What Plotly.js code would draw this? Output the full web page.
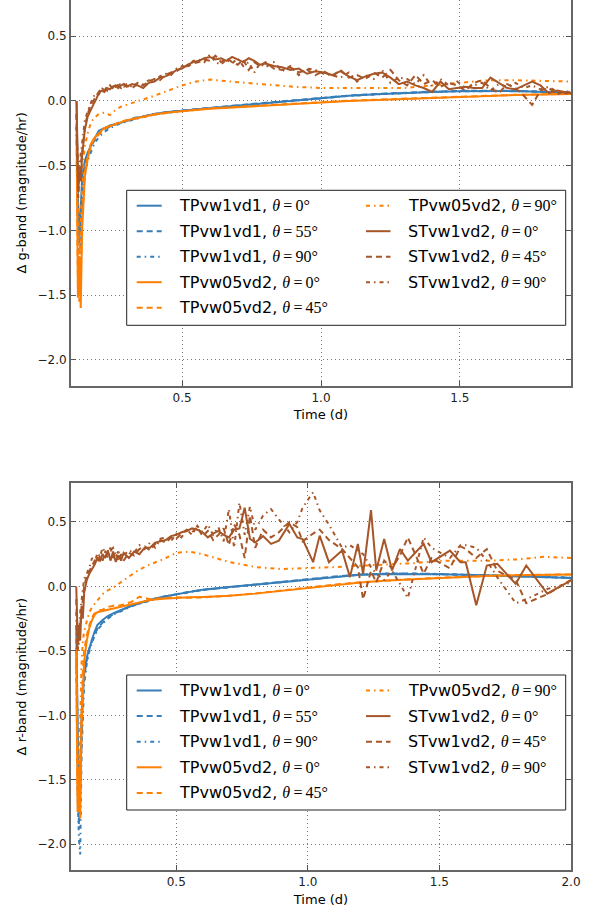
<!DOCTYPE html>
<html><head><meta charset="utf-8">
<script src="https://cdn.plot.ly/plotly-3.0.1.min.js"></script>
<style>html,body{margin:0;padding:0;background:#fff;} #chart{width:597px;height:911px;}</style>
</head><body><div id="chart"></div>
<script>
// ---------- tick labels ----------
const yTickVals = [-2.0, -1.5, -1.0, -0.5, 0.0, 0.5];
const yTickText = ['\u22122.0', '\u22121.5', '\u22121.0', '\u22120.5', '0.0', '0.5'];
const xTickValsTop = [0.5, 1.0, 1.5];
const xTickTextTop = ['0.5', '1.0', '1.5'];
const xTickValsBot = [0.5, 1.0, 1.5, 2.0];
const xTickTextBot = ['0.5', '1.0', '1.5', '2.0'];

// ---------- legend labels ----------
const seriesModels = ['TPvw1vd1','TPvw1vd1','TPvw1vd1','TPvw05vd2','TPvw05vd2','TPvw05vd2','STvw1vd2','STvw1vd2','STvw1vd2'];
const seriesAngles = ['0','55','90','0','45','90','0','45','90'];

// ---------- g-band (top) ----------
const xG_TP = [0.12,0.125,0.13,0.135,0.14,0.145,0.15,0.16,0.17,0.18,0.19,0.2,0.22,0.24,0.26,0.28,0.3,0.33,0.36,0.4,0.45,0.5,0.55,0.6,0.7,0.8,0.9,1.0,1.1,1.2,1.3,1.4,1.5,1.6,1.7,1.8,1.9];
const gBlue0 = [0.0,-0.75,-1.08,-0.8,-0.6,-0.52,-0.46,-0.4,-0.35,-0.31,-0.27,-0.23, -0.21,-0.19,-0.18,-0.165,-0.155,-0.135,-0.12, -0.1,-0.085,-0.075,-0.065,-0.055, -0.035,-0.015,0.005,0.025,0.04,0.052,0.062,0.07,0.075,0.077,0.076,0.07,0.064];
const gBlue55 = [-0.1,-0.9,-1.1,-0.95,-0.7,-0.58,-0.5,-0.42,-0.37,-0.32,-0.29,-0.25, -0.22,-0.2,-0.18,-0.16,-0.15,-0.13,-0.12, -0.1,-0.085,-0.073,-0.063,-0.053, -0.033,-0.013,0.007,0.027,0.042,0.054,0.064,0.072,0.078,0.08,0.078,0.072,0.066];
const gBlue90 = [-0.2,-1.0,-1.5,-1.12,-0.8,-0.66,-0.55,-0.46,-0.4,-0.35,-0.31,-0.28, -0.24,-0.21,-0.19,-0.17,-0.16,-0.14,-0.125, -0.105,-0.09,-0.077,-0.066,-0.056, -0.036,-0.016,0.004,0.024,0.039,0.051,0.061,0.069,0.075,0.078,0.077,0.071,0.065];
const gOrange0 = [-0.2,-1.52,-1.2,-1.6,-1.0,-0.75,-0.58,-0.45,-0.34,-0.3,-0.27,-0.25, -0.21,-0.195,-0.18,-0.165,-0.15,-0.135,-0.12, -0.105,-0.09,-0.08,-0.07,-0.06, -0.048,-0.035,-0.022,-0.01,0.0,0.008,0.016,0.024,0.032,0.04,0.046,0.05,0.054];
const gOrange45 = [-0.3,-1.45,-1.55,-1.3,-0.9,-0.7,-0.55,-0.43,-0.36,-0.31,-0.28,-0.26, -0.22,-0.19,-0.18,-0.16,-0.15,-0.135,-0.12, -0.105,-0.09,-0.078,-0.068,-0.058, -0.045,-0.033,-0.02,-0.008,0.002,0.01,0.018,0.026,0.033,0.041,0.047,0.051,0.055];
const gOrange90 = [-0.1,-0.9,-1.3,-0.9,-0.6,-0.45,-0.35,-0.25,-0.18,-0.14,-0.12,-0.1, -0.09,-0.11,-0.07,-0.044,-0.03,-0.01,0.01, 0.04,0.08,0.12,0.15,0.165, 0.145,0.125,0.11,0.1,0.1,0.095,0.1,0.12,0.14,0.16,0.16,0.155,0.15];

const xG_ST = [0.12,0.123,0.126,0.13,0.135,0.14,0.145,0.15,0.16,0.17,
  0.18,0.19,0.2,0.21,0.22,0.23,0.24,0.25,0.26,0.27,
  0.28,0.29,0.3,0.32,0.34,0.36,0.38,0.4,0.42,0.44,
  0.46,0.48,0.5,0.52,0.54,0.56,0.58,0.6,0.62,0.64,
  0.66,0.68,0.7,0.72,0.74,0.76,0.78,0.8,0.83,0.86,
  0.89,0.92,0.95,0.98,1.01,1.04,1.07,1.1,1.13,1.16,
  1.19,1.22,1.25,1.28,1.31,1.34,1.37,1.4,1.43,1.46,
  1.49,1.52,1.55,1.58,1.61,1.64,1.67,1.7,1.73,1.76,
  1.79,1.82,1.85,1.88,1.9];
const gST0 = [0.0,-0.45,-0.7,-0.55,-0.62,-0.42,-0.3,-0.22,-0.12,-0.07,
  -0.03,0.01,0.06,0.08,0.07,0.1,0.09,0.11,0.12,0.1,
  0.12,0.13,0.11,0.13,0.12,0.1,0.14,0.15,0.18,0.19,
  0.21,0.24,0.25,0.28,0.3,0.31,0.33,0.34,0.32,0.33,
  0.31,0.34,0.32,0.3,0.33,0.31,0.28,0.29,0.27,0.26,
  0.24,0.25,0.21,0.23,0.22,0.2,0.23,0.19,0.16,0.19,
  0.21,0.22,0.18,0.13,0.15,0.12,0.1,0.07,0.15,0.09,
  0.1,0.11,0.1,0.1,0.18,0.14,0.1,0.09,0.12,0.15,
  0.12,0.06,0.08,0.07,0.06];
const gST45 = [-0.1,-0.6,-0.75,-0.6,-0.5,-0.38,-0.28,-0.2,-0.1,-0.04,
  0.0,0.04,0.07,0.1,0.08,0.11,0.12,0.1,0.13,0.12,
  0.1,0.13,0.12,0.1,0.13,0.12,0.15,0.17,0.16,0.2,
  0.22,0.23,0.26,0.27,0.29,0.3,0.32,0.31,0.35,0.3,
  0.33,0.3,0.28,0.32,0.24,0.3,0.27,0.3,0.25,0.24,
  0.26,0.22,0.24,0.2,0.23,0.19,0.24,0.18,0.2,0.17,
  0.22,0.18,0.24,0.16,0.12,0.2,0.13,0.16,0.11,0.14,
  0.12,0.08,0.14,0.16,0.1,0.06,0.13,0.1,0.04,-0.03,
  0.08,0.1,0.05,0.08,0.06];
const gST90 = [-0.2,-0.55,-0.68,-0.5,-0.4,-0.32,-0.25,-0.15,-0.08,-0.02,
  0.03,0.06,0.05,0.09,0.11,0.08,0.12,0.13,0.11,0.14,
  0.12,0.11,0.13,0.11,0.14,0.13,0.16,0.15,0.19,0.21,
  0.2,0.25,0.27,0.26,0.31,0.32,0.3,0.36,0.3,0.28,
  0.32,0.29,0.33,0.27,0.3,0.22,0.29,0.26,0.3,0.23,
  0.27,0.2,0.25,0.24,0.21,0.2,0.18,0.22,0.15,0.2,
  0.17,0.24,0.14,0.18,0.17,0.13,0.2,0.11,0.17,0.12,
  0.15,0.1,0.12,0.14,0.08,0.13,0.11,0.14,0.1,0.12,
  0.09,0.11,0.07,0.06,0.05];

// ---------- r-band (bottom) ----------
const xR_TP = [0.12,0.125,0.13,0.135,0.14,0.145,0.15,0.16,0.17,0.18,0.19,0.2,0.22,0.24,0.26,0.28,0.3,0.33,0.36,0.4,0.45,0.5,0.55,0.6,0.7,0.8,0.9,1.0,1.1,1.2,1.3,1.4,1.5,1.6,1.7,1.8,1.9,2.0];
const rBlue0 = [-0.3,-1.2,-1.75,-1.5,-1.0,-0.8,-0.68,-0.55,-0.47,-0.41,-0.35,-0.3, -0.26,-0.23,-0.21,-0.19,-0.175,-0.15,-0.13, -0.105,-0.08,-0.06,-0.04,-0.025, -0.005,0.015,0.035,0.055,0.075,0.09,0.097,0.098,0.095,0.09,0.083,0.077,0.071,0.066];
const rBlue55 = [-0.4,-1.4,-1.85,-1.6,-1.1,-0.85,-0.7,-0.57,-0.48,-0.42,-0.37,-0.33, -0.28,-0.245,-0.215,-0.195,-0.175,-0.15,-0.13, -0.105,-0.08,-0.06,-0.042,-0.027, -0.006,0.014,0.034,0.056,0.076,0.091,0.099,0.1,0.096,0.09,0.084,0.078,0.072,0.067];
const rBlue90 = [-0.5,-1.6,-1.95,-2.08,-1.3,-0.95,-0.76,-0.6,-0.5,-0.43,-0.38,-0.34, -0.29,-0.25,-0.22,-0.2,-0.18,-0.155,-0.135, -0.11,-0.082,-0.062,-0.044,-0.028, -0.007,0.013,0.034,0.056,0.077,0.092,0.1,0.1,0.097,0.091,0.085,0.079,0.073,0.068];
const rOrange0 = [-0.5,-1.75,-1.4,-1.8,-1.1,-0.75,-0.58,-0.42,-0.32,-0.26,-0.22,-0.2, -0.19,-0.18,-0.17,-0.16,-0.15,-0.135,-0.12, -0.105,-0.095,-0.088,-0.085,-0.082, -0.072,-0.056,-0.034,-0.01,0.012,0.03,0.045,0.055,0.065,0.075,0.082,0.087,0.09,0.092];
const rOrange45 = [-0.4,-1.6,-1.75,-1.3,-0.9,-0.65,-0.5,-0.38,-0.3,-0.24,-0.21,-0.19, -0.18,-0.16,-0.15,-0.15,-0.14,-0.12,-0.08, -0.1,-0.09,-0.085,-0.088,-0.085, -0.072,-0.055,-0.032,-0.008,0.014,0.032,0.047,0.057,0.067,0.076,0.083,0.088,0.091,0.093];
const rOrange90 = [-0.3,-1.2,-1.5,-1.0,-0.6,-0.42,-0.35,-0.27,-0.2,-0.16,-0.13,-0.11, -0.06,-0.03,-0.01,0.02,0.05,0.09,0.13, 0.17,0.21,0.26,0.27,0.25, 0.19,0.15,0.135,0.14,0.15,0.16,0.17,0.18,0.2,0.2,0.2,0.21,0.23,0.22];

const xR_ST = [0.12,0.123,0.126,0.13,0.135,0.14,0.145,0.15,0.16,0.17,
  0.18,0.19,0.2,0.21,0.22,0.23,0.24,0.25,0.26,0.27,
  0.28,0.29,0.3,0.32,0.34,0.36,0.38,0.4,0.42,0.44,
  0.46,0.48,0.5,0.52,0.54,0.56,0.58,0.6,0.62,0.64,
  0.66,0.68,0.7,0.72,0.74,0.76,0.78,0.8,0.83,0.86,
  0.89,0.93,0.96,0.98,1.02,1.045,1.08,1.13,1.16,1.19,
  1.21,1.24,1.26,1.29,1.32,1.35,1.38,1.44,1.47,1.54,
  1.58,1.6,1.64,1.68,1.72,1.79,1.83,1.91,2.0];
const rST0 = [0.0,-0.35,-0.45,-0.3,-0.42,-0.15,-0.25,-0.05,0.05,0.1,
  0.13,0.17,0.22,0.2,0.25,0.22,0.28,0.2,0.27,0.19,
  0.24,0.2,0.26,0.22,0.27,0.25,0.3,0.3,0.34,0.35,
  0.36,0.39,0.4,0.42,0.43,0.45,0.44,0.42,0.38,0.41,
  0.43,0.4,0.38,0.44,0.45,0.61,0.37,0.34,0.39,0.33,
  0.355,0.484,0.38,0.368,0.188,0.394,0.188,0.278,0.072,0.33,
  0.098,0.592,0.124,0.368,0.124,0.29,0.2,0.33,0.188,0.278,
  0.188,0.188,-0.147,0.162,0.175,0.02,0.162,-0.056,0.046];
const rST45 = [-0.1,-0.4,-0.5,-0.35,-0.3,-0.2,-0.12,0.0,0.08,0.12,
  0.15,0.2,0.18,0.24,0.2,0.27,0.25,0.3,0.22,0.26,
  0.2,0.25,0.2,0.26,0.24,0.29,0.31,0.28,0.33,0.36,
  0.34,0.38,0.37,0.41,0.44,0.42,0.46,0.39,0.43,0.36,
  0.4,0.45,0.32,0.48,0.4,0.22,0.55,0.3,0.44,0.38,
  0.42,0.5,0.46,0.35,0.41,0.44,0.36,0.29,0.22,0.15,
  -0.1,0.12,0.03,0.2,0.14,0.24,0.38,0.1,0.22,0.14,
  0.31,0.29,0.22,0.29,0.12,0.05,-0.13,-0.06,0.05];
const rST90 = [-0.2,-0.5,-0.38,-0.45,-0.2,-0.1,0.0,0.06,0.1,0.15,
  0.22,0.18,0.26,0.23,0.3,0.26,0.22,0.28,0.3,0.24,
  0.27,0.22,0.24,0.28,0.26,0.32,0.29,0.34,0.3,0.37,
  0.38,0.35,0.41,0.38,0.44,0.4,0.47,0.42,0.48,0.4,
  0.46,0.35,0.6,0.3,0.65,0.4,0.62,0.44,0.55,0.6,
  0.52,0.42,0.5,0.61,0.73,0.59,0.48,0.3,0.32,0.28,
  0.25,0.15,0.1,0.05,0.12,0.02,-0.09,0.38,0.3,0.22,
  0.32,0.32,0.3,0.2,0.07,-0.13,-0.1,-0.02,0.03];

// ---------- styles ----------
const COL = ['#377eb8','#377eb8','#377eb8','#ff7f00','#ff7f00','#ff7f00','#a65628','#a65628','#a65628'];
const DASH = ['solid','6px,4px','4px,4px,1.5px,4px','solid','6px,4px','4px,4px,1.5px,4px','solid','6px,4px','4px,4px,1.5px,4px'];
const LW = 2;

const topSeries = [
  [xG_TP, gBlue0],[xG_TP, gBlue55],[xG_TP, gBlue90],
  [xG_TP, gOrange0],[xG_TP, gOrange45],[xG_TP, gOrange90],
  [xG_ST, gST0],[xG_ST, gST45],[xG_ST, gST90]];
const botSeries = [
  [xR_TP, rBlue0],[xR_TP, rBlue55],[xR_TP, rBlue90],
  [xR_TP, rOrange0],[xR_TP, rOrange45],[xR_TP, rOrange90],
  [xR_ST, rST0],[xR_ST, rST45],[xR_ST, rST90]];

function label(i){
  return seriesModels[i] + ', <span style="font-family:Liberation Serif"><i>\u03b8</i>\u2009=\u2009' + seriesAngles[i] + '\u00b0</span>';
}

const traces = [];
topSeries.forEach((s,i)=>traces.push({x:s[0], y:s[1], xaxis:'x', yaxis:'y', type:'scatter', mode:'lines',
  line:{color:COL[i], width:LW, dash:DASH[i]}, showlegend:false, name:label(i)}));
botSeries.forEach((s,i)=>traces.push({x:s[0], y:s[1], xaxis:'x2', yaxis:'y2', type:'scatter', mode:'lines',
  line:{color:COL[i], width:LW, dash:DASH[i]}, showlegend:false, name:label(i)}));

// ---------- manual legends (pixel helpers) ----------
const PL = 71, PW = 500, PH = 870;
const px2x = p => (p - PL) / PW;
const py2y = p => (PH - p) / PH;
const shapes = [], annotations = [];
function buildLegend(box, rowY){
  shapes.push({type:'rect', xref:'paper', yref:'paper', layer:'above',
    x0:px2x(box[0]), x1:px2x(box[1]), y0:py2y(box[2]), y1:py2y(box[3]),
    fillcolor:'#ffffff', line:{color:'#222', width:1}});
  const cols = [{lx0:136.7, lx1:161.7, tx:177}, {lx0:366, lx1:390.5, tx:405.7}];
  for (let i=0;i<9;i++){
    const c = i<5 ? cols[0] : cols[1];
    const r = i<5 ? i : i-5;
    const y = rowY[0] + r*(rowY[1]);
    shapes.push({type:'line', xref:'paper', yref:'paper', layer:'above',
      x0:px2x(c.lx0), x1:px2x(c.lx1), y0:py2y(y), y1:py2y(y),
      line:{color:COL[i], width:LW, dash:DASH[i]}});
    annotations.push({xref:'paper', yref:'paper', x:px2x(c.tx), y:py2y(y), xanchor:'left', yanchor:'middle',
      showarrow:false, text:label(i), font:{family:'DejaVu Sans', size:16, color:'#000'}});
  }
}
buildLegend([126.7,565.7,190.3,325.3],[205.7,25.5]);
buildLegend([126.7,565.7,675,810],[690.5,25.6]);

const axCommon = {ticks:'inside', ticklen:5, tickwidth:1, tickcolor:'#555', showline:true, linecolor:'#666', linewidth:2,
  showgrid:true, gridcolor:'#777', griddash:'1px,3px', gridwidth:1, zeroline:false,
  tickfont:{family:'DejaVu Sans', size:12, color:'#222'}};

const layout = {
  width:597, height:911, margin:{l:71, r:26, t:0, b:41}, paper_bgcolor:'#fff', plot_bgcolor:'#fff',
  font:{family:'DejaVu Sans', color:'#000'}, showlegend:false,
  xaxis: Object.assign({}, axCommon, {domain:[0,1], anchor:'y', range:[0.1,1.9], tickvals:xTickValsTop, ticktext:xTickTextTop, mirror:false,
    title:{text:'Time (d)', font:{family:'DejaVu Sans', size:13}, standoff:6}}),
  yaxis: Object.assign({}, axCommon, {domain:[0.5567,1], anchor:'x', range:[-2.2,0.78], tickvals:yTickVals, ticktext:yTickText, mirror:'ticks',
    title:{text:'\u0394 g-band (magnitude/hr)', font:{family:'DejaVu Sans', size:13}, standoff:8}}),
  xaxis2: Object.assign({}, axCommon, {domain:[0,1], anchor:'y2', range:[0.1,2.0], tickvals:xTickValsBot, ticktext:xTickTextBot, mirror:'ticks',
    title:{text:'Time (d)', font:{family:'DejaVu Sans', size:13}, standoff:6}}),
  yaxis2: Object.assign({}, axCommon, {domain:[0,0.4445], anchor:'x2', range:[-2.2,0.8], tickvals:yTickVals, ticktext:yTickText, mirror:'ticks',
    title:{text:'\u0394 r-band (magnitude/hr)', font:{family:'DejaVu Sans', size:13}, standoff:8}}),
  shapes:shapes, annotations:annotations
};
Plotly.newPlot('chart', traces, layout, {staticPlot:true, displayModeBar:false});
</script></body></html>
